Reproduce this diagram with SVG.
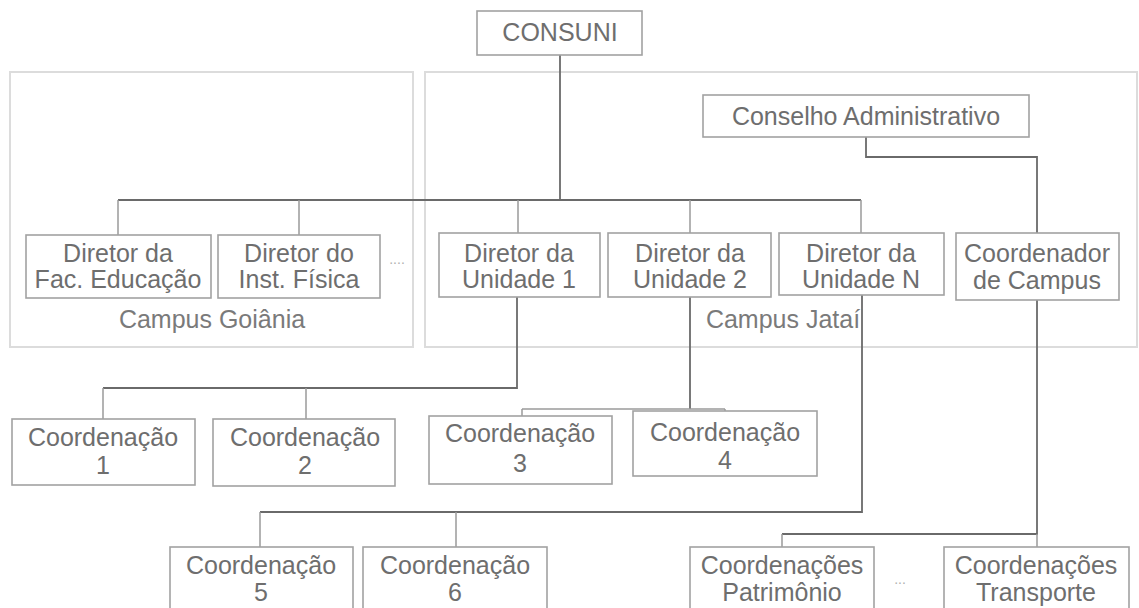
<svg xmlns="http://www.w3.org/2000/svg" width="1139" height="608" viewBox="0 0 1139 608">
<style>
.bg{fill:#fff}
.region{fill:none;stroke:#dcdcdc;stroke-width:2}
.box{fill:#fff;stroke:#a2a2a2;stroke-width:1.6}
.t{font-family:"Liberation Sans",Arial,sans-serif;font-size:25px;fill:#6e6e6e;text-anchor:middle}
.lbl{font-family:"Liberation Sans",Arial,sans-serif;font-size:25px;fill:#7a7a7a;text-anchor:middle}
.dots{font-family:"Liberation Sans",Arial,sans-serif;font-size:14px;fill:#b0b0b0;text-anchor:middle}
.c{fill:none;stroke:#6a6a6a;stroke-width:1.8}
.cl{fill:none;stroke:#9a9a9a;stroke-width:1.5}
</style>
<rect class="bg" x="0" y="0" width="1139" height="608"/>
<g id="regions">
  <g id="campus-goiania">
    <rect class="region" x="10" y="72" width="403" height="275"/>
    <text class="lbl" x="212" y="328">Campus Goiânia</text>
  </g>
  <g id="campus-jatai">
    <rect class="region" x="425" y="72" width="712" height="275"/>
    <text class="lbl" x="783" y="328">Campus Jataí</text>
  </g>
</g>
<g id="connectors">
  <path class="c" d="M560 55 V200"/>
  <path class="c" d="M118 200 H861"/>
  <path class="cl" d="M118 200 V235 M299 200 V235 M518 200 V233 M690 200 V233 M861 200 V233"/>
  <path class="c" d="M866 137 V157 H1037 V233"/>
  <path class="c" d="M517 297 V388 H103"/>
  <path class="cl" d="M103 388 V419 M306 388 V419"/>
  <path class="c" d="M690 297 V409"/>
  <path class="cl" d="M522 409 H725 M522 409 V416 M725 409 V411"/>
  <path class="c" d="M862 295 V512 H260"/>
  <path class="cl" d="M260 512 V547 M456 512 V547"/>
  <path class="c" d="M1037 300 V534 H782"/>
  <path class="cl" d="M782 534 V547 M1037 534 V547"/>
</g>
<g id="consuni">
  <rect class="box" x="477" y="11" width="165" height="44"/>
  <text class="t" x="560" y="41">CONSUNI</text>
</g>
<g id="conselho-administrativo">
  <rect class="box" x="703" y="95" width="326" height="42"/>
  <text class="t" x="866" y="125">Conselho Administrativo</text>
</g>
<g id="diretor-fac-educacao">
  <rect class="box" x="26" y="235" width="185" height="63"/>
  <text class="t" x="118" y="262">Diretor da</text>
  <text class="t" x="118" y="288">Fac. Educação</text>
</g>
<g id="diretor-inst-fisica">
  <rect class="box" x="218" y="235" width="162" height="63"/>
  <text class="t" x="299" y="262">Diretor do</text>
  <text class="t" x="299" y="288">Inst. Física</text>
</g>
<text class="dots" x="397" y="264">....</text>
<g id="diretor-unidade-1">
  <rect class="box" x="439" y="233" width="161" height="64"/>
  <text class="t" x="519" y="262">Diretor da</text>
  <text class="t" x="519" y="288">Unidade 1</text>
</g>
<g id="diretor-unidade-2">
  <rect class="box" x="608" y="233" width="163" height="64"/>
  <text class="t" x="690" y="262">Diretor da</text>
  <text class="t" x="690" y="288">Unidade 2</text>
</g>
<g id="diretor-unidade-n">
  <rect class="box" x="779" y="233" width="165" height="62"/>
  <text class="t" x="861" y="262">Diretor da</text>
  <text class="t" x="861" y="288">Unidade N</text>
</g>
<g id="coordenador-campus">
  <rect class="box" x="956" y="233" width="163" height="67"/>
  <text class="t" x="1037" y="262">Coordenador</text>
  <text class="t" x="1037" y="289">de Campus</text>
</g>
<g id="coordenacao-1">
  <rect class="box" x="12" y="419" width="183" height="66"/>
  <text class="t" x="103" y="446">Coordenação</text>
  <text class="t" x="103" y="474">1</text>
</g>
<g id="coordenacao-2">
  <rect class="box" x="213" y="419" width="182" height="67"/>
  <text class="t" x="305" y="446">Coordenação</text>
  <text class="t" x="305" y="474">2</text>
</g>
<g id="coordenacao-3">
  <rect class="box" x="429" y="416" width="183" height="68"/>
  <text class="t" x="520" y="442">Coordenação</text>
  <text class="t" x="520" y="472">3</text>
</g>
<g id="coordenacao-4">
  <rect class="box" x="633" y="411" width="184" height="65"/>
  <text class="t" x="725" y="441">Coordenação</text>
  <text class="t" x="725" y="469">4</text>
</g>
<g id="coordenacao-5">
  <rect class="box" x="170" y="547" width="183" height="68"/>
  <text class="t" x="261" y="574">Coordenação</text>
  <text class="t" x="261" y="601">5</text>
</g>
<g id="coordenacao-6">
  <rect class="box" x="363" y="547" width="184" height="68"/>
  <text class="t" x="455" y="574">Coordenação</text>
  <text class="t" x="455" y="601">6</text>
</g>
<g id="coordenacoes-patrimonio">
  <rect class="box" x="690" y="547" width="184" height="68"/>
  <text class="t" x="782" y="574">Coordenações</text>
  <text class="t" x="782" y="601">Patrimônio</text>
</g>
<text class="dots" x="900" y="584">...</text>
<g id="coordenacoes-transporte">
  <rect class="box" x="944" y="547" width="185" height="68"/>
  <text class="t" x="1036" y="574">Coordenações</text>
  <text class="t" x="1036" y="601">Transporte</text>
</g>
</svg>
